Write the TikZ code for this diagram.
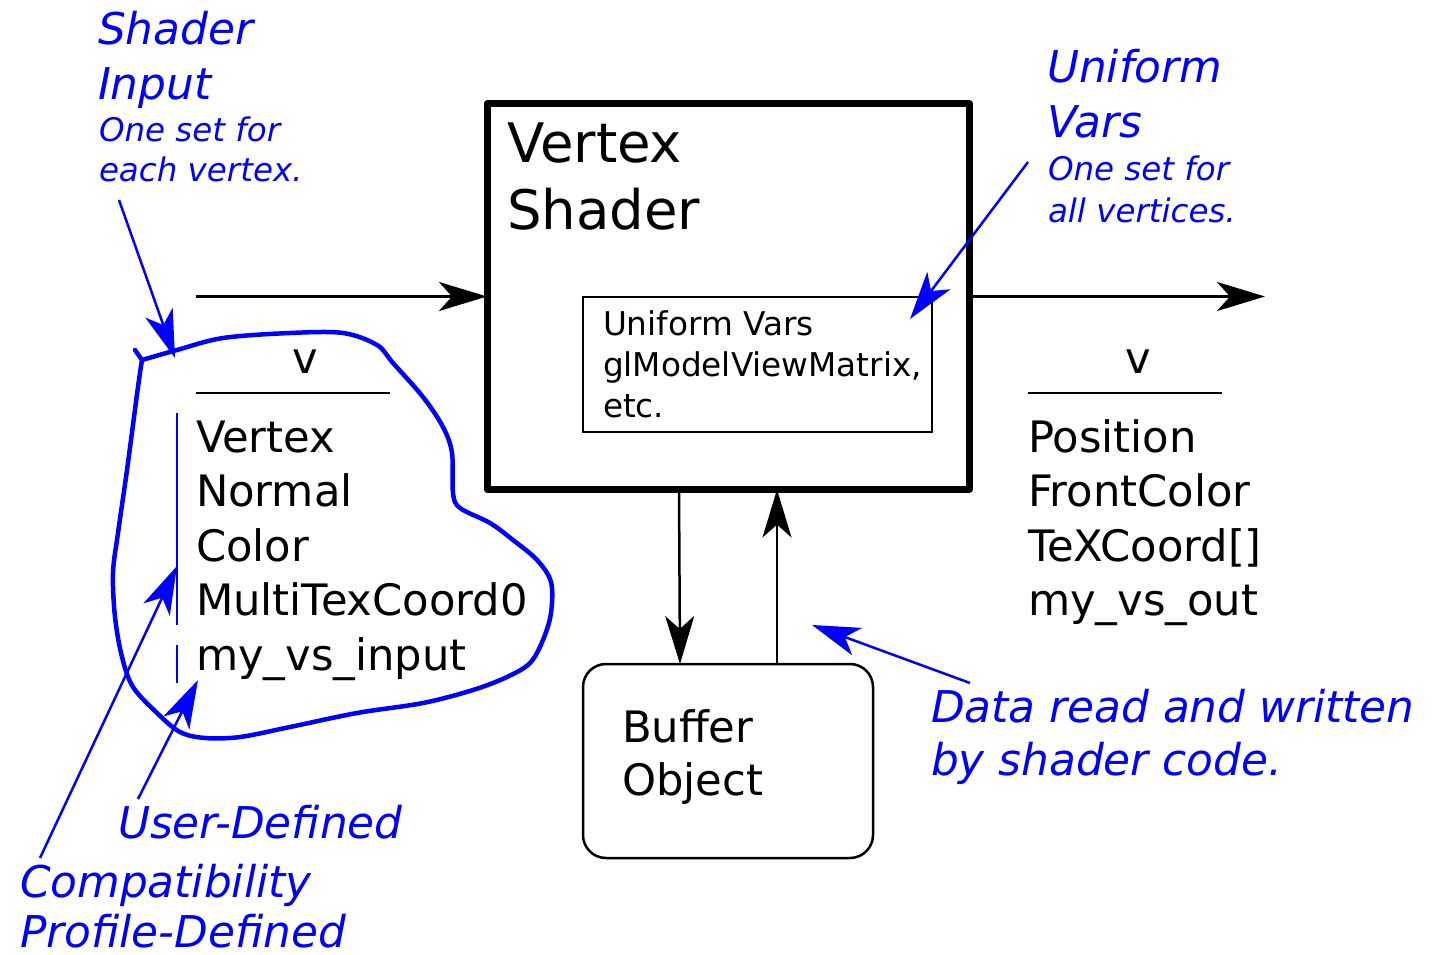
\documentclass[tikz,border=0pt]{standalone}
\usepackage{fontspec}
\setmainfont{DejaVu Sans}
\usetikzlibrary{arrows.meta}
\begin{document}
\begin{tikzpicture}[x=1pt,y=-1pt,
  lbl/.style={anchor=base west, inner sep=0pt, outer sep=0pt},
  big/.style={lbl, font=\fontsize{43.3}{50}\selectfont},
  ttl/.style={lbl, font=\fontsize{54.5}{60}\selectfont},
  small/.style={lbl, font=\fontsize{32.7}{38}\selectfont},
  note/.style={lbl, text=blue, font=\fontsize{43.8}{50}\selectfont\itshape},
  notesmall/.style={lbl, text=blue, font=\fontsize{32.5}{38}\selectfont\itshape},
  arr/.style={-{Stealth[length=48pt,width=29pt,inset=13pt]}, line width=2.5pt},
  harr/.style={arr, line width=3pt},
  barr/.style={arr, blue},
  boxnode/.style={draw, inner sep=0pt, outer sep=0pt},
  rule/.style={line width=2.5pt},
  bluerule/.style={blue, line width=2pt},
  blob/.style={blue, line width=4.5pt, line join=round, line cap=round}
]
\useasboundingbox (0,0) rectangle (1443,955);

% boxes
\node[boxnode, line width=7pt, line join=round, minimum width=482pt, minimum height=386pt] (vs) at (728,296.5) {};
\node[boxnode, line width=2.5pt, minimum width=349pt, minimum height=135pt] (uni) at (757.5,364.5) {};
\node[boxnode, line width=2.5pt, rounded corners=23pt, minimum width=290pt, minimum height=194pt] (buf) at (728,761) {};

% box texts
\node[ttl] (vs1) at (507,162) {Vertex};
\node[ttl] (vs2) at (507,229) {Shader};
\node[small] (u1) at (603,335) {Uniform Vars};
\node[small] (u2) at (603,376) {glModelViewMatrix,};
\node[small] (u3) at (603,417) {etc.};
\node[big] (b1) at (622,742) {Buffer};
\node[big] (b2) at (622,795) {Object};

% input list
\node[big, anchor=base] (vin) at (305,373) {v};
\draw[rule] (196,393) -- (390,393);
\node[big] (i1) at (196,452) {Vertex};
\node[big] (i2) at (196,506.5) {Normal};
\node[big] (i3) at (196,561) {Color};
\node[big] (i4) at (196,615.5) {MultiTexCoord0};
\node[big] (i5) at (196,670) {my\_vs\_input};

% output list
\node[big, anchor=base] (vout) at (1138,373) {v};
\draw[rule] (1028,393) -- (1222,393);
\node[big] (o1) at (1028,452) {Position};
\node[big] (o2) at (1028,506.5) {FrontColor};
\node[big] (o3) at (1028,561) {TeXCoord[]};
\node[big] (o4) at (1028,615.5) {my\_vs\_out};

% black connectors
\coordinate (inL) at (196,296.5);
\coordinate (outR) at (1265,296.5);
\draw[harr] (inL) -- (vs.west);
\draw[harr] (vs.east) -- (outR);
\draw[arr] ([xshift=-49pt]vs.south) -- ([xshift=-48pt]buf.north);
\draw[arr] ([xshift=49pt]buf.north) -- ([xshift=49pt]vs.south);

% blue blob around input list
\draw[blob] plot[smooth, tension=0.55] coordinates {(142,360) (177,350) (223,338) (290,333) (343,333) (377,345) (393,363) (423,397) (443,427) (452,453) (453,493) (460,508) (490,523) (513,540) (537,560) (551,582) (551,613) (543,640) (530,663) (507,677) (473,690) (423,703) (357,713) (290,727) (240,737) (205,738) (180,732) (157,713) (133,687) (122,657) (115,617) (113,573) (118,533) (127,470) (138,387) (142,360)};
\draw[blob] (142,360) -- (135,350);

% blue bars
\draw[bluerule] (177,413) -- (177,625);
\draw[bluerule] (177,645) -- (177,683);

% blue annotations
\node[note] (si1) at (98,45) {Shader};
\node[note] (si2) at (98,100) {Input};
\node[notesmall] (si3) at (99,142) {One set for};
\node[notesmall] (si4) at (99,182) {each vertex.};

\node[note] (uv1) at (1047,83) {Uniform};
\node[note] (uv2) at (1047,138) {Vars};
\node[notesmall] (uv3) at (1048,180) {One set for};
\node[notesmall] (uv4) at (1048,222) {all vertices.};

\node[note] (ud) at (118,838) {User-Defined};
\node[note] (cp1) at (20,897) {Compatibility};
\node[note] (cp2) at (20,947) {Profile-Defined};

\node[note] (dr1) at (931,722) {Data read and written};
\node[note] (dr2) at (931,775) {by shader code.};

\coordinate (siA) at (119,200);
\coordinate (siB) at (175,358);
\draw[barr] (siA) -- (siB);

\coordinate (uvA) at (1028,162);
\draw[barr] (uvA) -- ([shift={(-22,22)}]uni.north east);

\coordinate (cpA) at (40,858);
\coordinate (cpB) at (177,566);
\draw[barr] (cpA) -- (cpB);

\coordinate (udA) at (138,799);
\coordinate (udB) at (198,680);
\draw[barr] (udA) -- (udB);

\coordinate (drA) at (970,683);
\coordinate (drB) at (812,625);
\draw[barr] (drA) -- (drB);
\end{tikzpicture}
\end{document}
